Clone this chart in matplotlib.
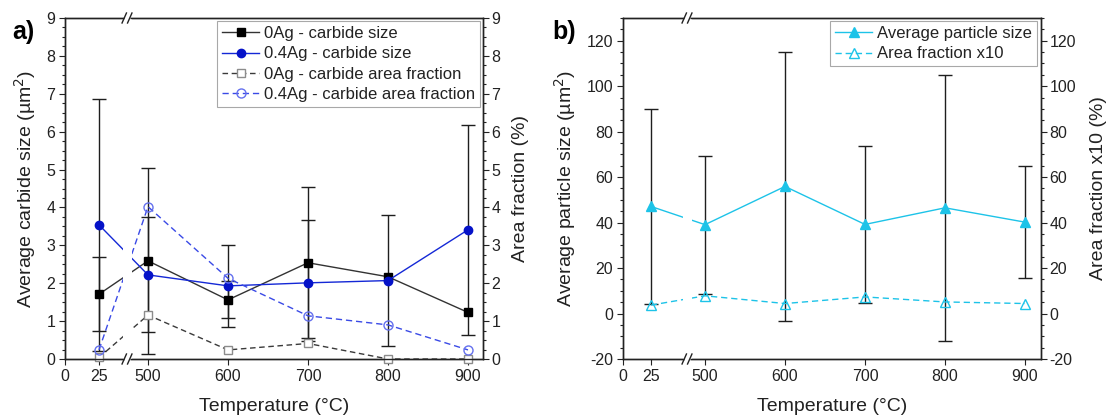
import numpy as np
import matplotlib
matplotlib.use("Agg")
import matplotlib.pyplot as plt
from matplotlib.ticker import MultipleLocator, NullLocator

plt.rcParams['font.family'] = ['Liberation Sans', 'DejaVu Sans']
plt.rcParams['axes.unicode_minus'] = False

# ---------------- data ----------------
temps = [25, 500, 600, 700, 800, 900]
xticks = [0, 25, 500, 600, 700, 800, 900]

size_0ag = [1.71, 2.59, 1.56, 2.54, 2.17, 1.23]
size_0ag_err_lo = [0.98, 2.45, 0.49, 1.99, np.nan, np.nan]
size_0ag_err_hi = [0.98, 2.44, 0.49, 1.99, np.nan, np.nan]
size_04ag = [3.54, 2.22, 1.93, 2.01, 2.07, 3.41]
size_04ag_err_lo = [3.32, 1.50, 1.08, 1.53, 1.74, 2.77]
size_04ag_err_hi = [3.32, 1.54, 1.08, 1.66, 1.73, 2.77]
af_0ag = [0.04, 1.16, 0.24, 0.41, 0.0, 0.0]
af_04ag = [0.24, 4.02, 2.13, 1.14, 0.90, 0.24]

psize = [47.1, 39.1, 55.9, 39.2, 46.5, 40.2]
psize_err = [43.0, 30.3, 59.0, 34.4, 58.5, 24.5]
af10 = [3.7, 7.8, 4.4, 7.3, 5.1, 4.4]

labels_a = ['0Ag - carbide size', '0.4Ag - carbide size',
            '0Ag - carbide area fraction', '0.4Ag - carbide area fraction']
labels_b = ['Average particle size', 'Area fraction x10']

# ---------------- layout ----------------
W, H = 1110, 417
fig = plt.figure(figsize=(W / 100, H / 100), dpi=100)


def px_axes(l, r, t, b):
    return fig.add_axes([l / W, 1 - b / H, (r - l) / W, (b - t) / H])


AX_W = 418.0
AX_H = 341.0
axa = px_axes(65, 65 + AX_W, 18, 18 + AX_H)
axb = px_axes(623, 623 + AX_W, 18, 18 + AX_H)

SPINE = '#222222'
BLUE = '#1428d6'
BLUE_M = '#0512c8'
CYAN = '#1dc3e8'


def piecewise(p25, p500):
    xs = np.array([-1000., 0., 25., 500., 5000.])
    ps = np.array([-1000. * p25 / 25., 0., p25, p500, p500 + 4500. * 0.8])

    def fwd(x):
        return np.interp(np.asarray(x, dtype=float), xs, ps)

    def inv(p):
        return np.interp(np.asarray(p, dtype=float), ps, xs)
    return fwd, inv


def style_axes(ax, ax2, ylim, major, minor, inv):
    ax.set_xlim(0, float(inv(AX_W)))
    ax.set_ylim(*ylim)
    ax2.set_ylim(*ylim)
    ax.set_xticks(xticks)
    ax.xaxis.set_minor_locator(NullLocator())
    for a in (ax, ax2):
        a.yaxis.set_major_locator(MultipleLocator(major))
        a.yaxis.set_minor_locator(MultipleLocator(minor))
        for s in a.spines.values():
            s.set_color(SPINE)
            s.set_linewidth(1.0)
    ax.tick_params(axis='both', which='major', direction='out', length=4,
                   width=0.8, labelsize=11.5, pad=3, color=SPINE,
                   labelcolor='#222222')
    ax.tick_params(axis='both', which='minor', direction='out', length=2.4,
                   width=0.8, color=SPINE)
    ax.tick_params(axis='x', top=False)
    ax.tick_params(axis='y', which='both', right=False)
    ax2.tick_params(axis='y', which='major', direction='out', length=4,
                    width=0.8, labelsize=11.5, pad=2, color=SPINE,
                    labelcolor='#222222')
    ax2.tick_params(axis='y', which='minor', direction='out', length=2.4,
                    width=0.8, color=SPINE)


def draw_break(ax_top, p_center, inv):
    ax_top.axvspan(float(inv(p_center - 4.5)), float(inv(p_center + 4.5)),
                   color='white', lw=0, zorder=2.2)
    fx = p_center / AX_W
    for yy in (0.0, 1.0):
        ax_top.plot([fx - 3 / AX_W, fx + 3 / AX_W], [yy, yy],
                    transform=ax_top.transAxes, color='white', lw=2.5,
                    clip_on=False, zorder=6, solid_capstyle='butt')
        for off in (-2.75, 2.75):
            cx = fx + off / AX_W
            ax_top.plot([cx - 2.2 / AX_W, cx + 2.2 / AX_W],
                        [yy - 5 / AX_H, yy + 5 / AX_H],
                        transform=ax_top.transAxes, color=SPINE, lw=1.0,
                        clip_on=False, zorder=7)


def errbars(ax, x, y, lo, hi):
    x, y, lo, hi = (np.asarray(v, dtype=float) for v in (x, y, lo, hi))
    m = np.isfinite(lo)
    ax.errorbar(x[m], y[m], yerr=[lo[m], hi[m]], fmt='none',
                ecolor='#1e1e1e', elinewidth=1.0, capsize=5, capthick=1.0,
                zorder=1.8)


# ---------------- panel a ----------------
fwd_a, inv_a = piecewise(34., 83.)
axa.set_xscale('function', functions=(fwd_a, inv_a))
axa2 = axa.twinx()

errbars(axa, temps, size_0ag, size_0ag_err_lo, size_0ag_err_hi)
errbars(axa, temps, size_04ag, size_04ag_err_lo, size_04ag_err_hi)
h1, = axa.plot(temps, size_0ag, '-', color='#333333', lw=1.0, marker='s',
               ms=5.5, mfc='black', mec='black', zorder=2)
h2, = axa.plot(temps, size_04ag, '-', color=BLUE, lw=1.0, marker='o',
               ms=6, mfc=BLUE_M, mec=BLUE_M, zorder=2)
h3, = axa2.plot(temps, af_0ag, ls=(0, (4, 2.6)), color='#3a3a3a', lw=1.0,
                marker='s', ms=5.5, mfc='white', mec='#8c8c8c',
                clip_on=False, zorder=2)
h4, = axa2.plot(temps, af_04ag, ls=(0, (4.5, 2.8)), color='#3a4ae6', lw=1.0,
                marker='o', ms=6.5, mfc='none', mec='#6470ee', zorder=2)

style_axes(axa, axa2, (0, 9), 1, 0.25, inv_a)
draw_break(axa2, 62.0, inv_a)

axa.set_xlabel('Temperature (°C)', fontsize=14, color='#222222')
axa.xaxis.set_label_coords(0.501, -0.113)
axa.set_ylabel('Average carbide size (µm$^2$)', fontsize=14, color='#222222')
axa.yaxis.set_label_coords(-0.065, 0.5)
axa2.set_ylabel('Area fraction (%)', fontsize=14, color='#222222')
axa2.yaxis.set_label_coords(1.07, 0.5)

leg = axa2.legend([h1, h2, h3, h4], labels_a, loc='upper right',
                  bbox_to_anchor=(0.993, 0.991), borderaxespad=0,
                  fontsize=12, frameon=True, fancybox=False,
                  edgecolor='#a8a8a8', framealpha=1, handlelength=2.2,
                  handletextpad=0.3, labelspacing=0.32, borderpad=0.3)
leg.get_frame().set_linewidth(0.8)
for t in leg.get_texts():
    t.set_color('#222222')

# ---------------- panel b ----------------
fwd_b, inv_b = piecewise(28., 82.)
axb.set_xscale('function', functions=(fwd_b, inv_b))
axb2 = axb.twinx()

errbars(axb, temps, psize, psize_err, psize_err)
g1, = axb.plot(temps, psize, '-', color=CYAN, lw=1.0, marker='^', ms=6.5,
               mfc=CYAN, mec=CYAN, zorder=2)
g2, = axb2.plot(temps, af10, ls=(0, (4.5, 2.8)), color=CYAN, lw=1.0,
                marker='^', ms=6.5, mfc='none', mec=CYAN, zorder=2)

style_axes(axb, axb2, (-20, 130), 20, 5, inv_b)
draw_break(axb2, 64.0, inv_b)

axb.set_xlabel('Temperature (°C)', fontsize=14, color='#222222')
axb.xaxis.set_label_coords(0.501, -0.113)
axb.set_ylabel('Average particle size (µm$^2$)', fontsize=14, color='#222222')
axb.yaxis.set_label_coords(-0.108, 0.5)
axb2.set_ylabel('Area fraction x10 (%)', fontsize=14, color='#222222')
axb2.yaxis.set_label_coords(1.117, 0.5)

legb = axb2.legend([g1, g2], labels_b, loc='upper right',
                   bbox_to_anchor=(0.990, 0.991), borderaxespad=0,
                   fontsize=12, frameon=True, fancybox=False,
                   edgecolor='#a8a8a8', framealpha=1, handlelength=2.2,
                   handletextpad=0.3, labelspacing=0.32, borderpad=0.3)
legb.get_frame().set_linewidth(0.8)
for t in legb.get_texts():
    t.set_color('#222222')

# panel letters
fig.text(12 / W, 1 - 31.5 / H, 'a)', fontsize=18, fontweight='bold',
         ha='left', va='center', color='black')
fig.text(552 / W, 1 - 31.5 / H, 'b)', fontsize=18, fontweight='bold',
         ha='left', va='center', color='black')

fig.savefig('out.png', dpi=100)
